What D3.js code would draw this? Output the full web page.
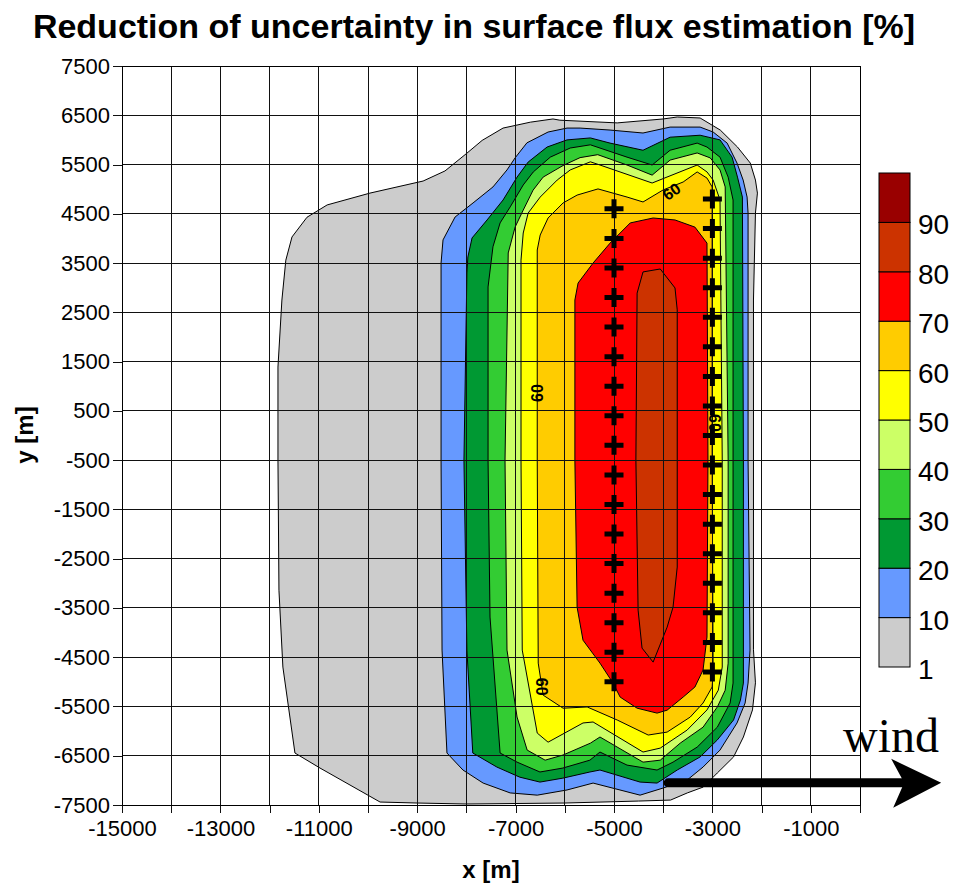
<!DOCTYPE html>
<html>
<head>
<meta charset="utf-8">
<script src="https://cdn.jsdelivr.net/npm/d3@7"></script>
<style>
    body { margin: 0; background: #fff; }
    svg text { font-family: Arial, "Liberation Sans", sans-serif; fill: #000; }
</style>
</head>
<body>
<div id="chart"></div>
<script>
// contour levels [%] and their colours
var levels = [1, 10, 20, 30, 40, 50, 60, 70, 80, 90];
var levelColors = ["#cccccc", "#6699ff", "#009933", "#33cc33", "#ccff66",
                   "#ffff00", "#ffcc00", "#ff0000", "#cc3300", "#990000"];

// filled contour outlines, [x, y] in metres
var contour1 = [[-6240,6425],[-6700,6360],[-7255,6240],[-7680,5990],[-7990,5730],[-8435,5370],
    [-8880,5165],[-9960,4920],[-10830,4680],[-11240,4430],[-11545,4030],[-11670,3560],[-11750,2750],
    [-11830,1390],[-11830,-500],[-11810,-3140],[-11730,-4700],[-11485,-6445],[-10975,-6750],
    [-9755,-7440],[-9000,-7460],[-8000,-7480],[-6000,-7460],[-4500,-7420],[-3850,-7400],[-3510,-7255],
    [-3185,-7135],[-2900,-6850],[-2570,-6525],[-2370,-6120],[-2185,-5570],[-2125,-5020],[-2165,-4350],
    [-2165,2750],[-2125,4515],[-2085,4920],[-2125,5185],[-2230,5530],[-2490,5855],[-2840,6200],
    [-3250,6445],[-3715,6465],[-4000,6425],[-4935,6345],[-6100,6400]];
var contour10 = [[-5955,6240],[-6340,6160],[-6770,5940],[-7010,5635],[-7175,5390],[-7460,5045],
    [-7865,4720],[-8230,4435],[-8475,3970],[-8515,3500],[-8515,-500],[-8495,-4355],[-8395,-6445],
    [-8070,-6790],[-7660,-7055],[-7110,-7255],[-6560,-7300],[-5955,-7195],[-5425,-7055],[-4470,-7300],
    [-4000,-7155],[-3515,-6995],[-3190,-6730],[-2845,-6385],[-2500,-5835],[-2335,-5430],[-2275,-5025],
    [-2235,-4355],[-2275,-500],[-2275,4515],[-2295,4840],[-2375,5185],[-2500,5530],[-2700,5935],
    [-2985,6160],[-3250,6260],[-3860,6260],[-4410,6140],[-5080,6200],[-5690,6240]];
var contour20 = [[-5480,6040],[-5955,6000],[-6360,5855],[-6745,5550],[-6970,5245],[-7255,4780],
    [-7580,4375],[-7885,4010],[-7970,3625],[-7990,3300],[-8050,-500],[-7990,-4355],[-7870,-6445],
    [-7380,-6730],[-6915,-6935],[-6505,-7035],[-6040,-6955],[-5490,-6830],[-5285,-6790],[-4470,-7035],
    [-4125,-7055],[-3715,-6790],[-3250,-6525],[-2900,-6180],[-2570,-5775],[-2430,-5370],[-2370,-5025],
    [-2370,-500],[-2390,4840],[-2490,5245],[-2600,5650],[-2845,6000],[-3250,6095],[-3860,6055],
    [-4410,5790],[-5080,5935]];
var contour30 = [[-5480,5900],[-5890,5835],[-6295,5650],[-6640,5350],[-6845,5085],[-7110,4640],
    [-7315,4315],[-7460,3830],[-7560,3015],[-7560,-500],[-7520,-3685],[-7315,-6445],[-6970,-6630],
    [-6505,-6830],[-6040,-6750],[-5490,-6590],[-5285,-6425],[-4735,-6690],[-4125,-6790],[-3800,-6630],
    [-3310,-6325],[-2900,-5920],[-2640,-5430],[-2580,-5025],[-2580,-500],[-2580,4780],[-2680,5245],
    [-2845,5650],[-3110,5855],[-3310,5935],[-3860,5790],[-4225,5490],[-4735,5650]];
var contour40 = [[-5330,5700],[-5690,5640],[-6035,5480],[-6440,5245],[-6645,4980],[-6845,4575],
    [-7010,4230],[-7150,3705],[-7215,-500],[-7175,-4355],[-6970,-5715],[-6765,-6385],[-6400,-6590],
    [-6035,-6485],[-5480,-6245],[-5285,-6120],[-4410,-6630],[-4060,-6590],[-3655,-6245],[-3190,-5920],
    [-2900,-5510],[-2740,-5170],[-2680,-4620],[-2680,-500],[-2740,5045],[-2845,5390],[-3045,5635],
    [-3310,5735],[-3860,5590],[-4225,5285],[-4735,5490]];
var contour50 = [[-5480,5555],[-5890,5390],[-6155,5185],[-6500,4840],[-6745,4515],[-6845,4110],
    [-6890,3560],[-6890,-500],[-6865,-4355],[-6560,-6040],[-6340,-6225],[-5630,-5835],[-5425,-5815],
    [-4410,-6425],[-4060,-6345],[-3515,-5980],[-3110,-5570],[-2880,-5170],[-2800,-4700],[-2800,-500],
    [-2845,4780],[-2985,5185],[-3110,5350],[-3310,5490],[-4225,5125],[-5285,5490]];
var contour60 = [[-6560,3765],[-6500,4070],[-6340,4415],[-6035,4720],[-5750,4880],[-5325,5005],
    [-4735,4840],[-4410,4740],[-4000,4985],[-3595,5145],[-3310,5350],[-3110,5225],[-3005,5045],
    [-3005,-500],[-2985,-4820],[-3005,-5105],[-3190,-5430],[-3450,-5715],[-3920,-6020],[-4305,-6080],
    [-4935,-5775],[-5545,-5510],[-6035,-5535],[-6440,-5270],[-6540,-4620],[-6560,-500]];
var contour70 = [[-5795,2750],[-5730,3095],[-5425,3500],[-5080,3905],[-4670,4315],[-4205,4415],
    [-3760,4375],[-3355,4230],[-3110,3905],[-3090,-500],[-3110,-4090],[-3190,-4760],[-3355,-5105],
    [-3595,-5310],[-3920,-5575],[-4125,-5635],[-4530,-5535],[-4875,-5310],[-5020,-5025],[-5285,-4620],
    [-5630,-4155],[-5750,-3485],[-5795,-500]];
var contour80 = [[-4530,2890],[-4410,3320],[-4060,3380],[-3760,2995],[-3715,2550],[-3715,-500],
    [-3715,-2670],[-3800,-3485],[-3920,-3890],[-4205,-4600],[-4430,-4315],[-4510,-3545],[-4555,-500]];

// "60" contour labels: x, y, angle
var contourLabels = [
    { text: "60", x: -6560, y: 860, angle: -90 },
    { text: "60", x: -6475, y: -5100, angle: 90 },
    { text: "60", x: -3830, y: 4950, angle: -35 },
    { text: "60", x: -2950, y: 255, angle: 90 }
];

// receiver lines
var receiverWestX = -5000;
var receiverWestY = [4600, 4000, 3400, 2800, 2200, 1600, 1000, 400, -200, -800, -1400, -2000,
    -2600, -3200, -3800, -4400, -5000];
var receiverEastX = -3000;
var receiverEastY = [4800, 4200, 3600, 3000, 2400, 1800, 1200, 600, 0, -600, -1200, -1800,
    -2400, -3000, -3600, -4200, -4800];

// wind arrow (metres)
var windArrow = { x0: -3900, x1: 1650, y: -7050 };

// axes
var xTicks = [-15000, -14000, -13000, -12000, -11000, -10000, -9000, -8000, -7000, -6000,
    -5000, -4000, -3000, -2000, -1000, 0];
var xTickLabels = [-15000, -13000, -11000, -9000, -7000, -5000, -3000, -1000];
var yTicks = [7500, 6500, 5500, 4500, 3500, 2500, 1500, 500, -500, -1500, -2500, -3500,
    -4500, -5500, -6500, -7500];


ContourChart = function(_parentElement) {
    this.parentElement = _parentElement;
    this.initVis();
}

ContourChart.prototype.initVis = function() {
    var vis = this;

    vis.width = 958;
    vis.height = 888;
    vis.plot = { left: 122, top: 66, right: 860, bottom: 805 };

    vis.svg = d3.select("#" + vis.parentElement).append("svg")
        .attr("width", vis.width)
        .attr("height", vis.height);

    vis.x = d3.scaleLinear().domain([-15000, 0]).range([vis.plot.left, vis.plot.right]);
    vis.y = d3.scaleLinear().domain([-7500, 7500]).range([vis.plot.bottom, vis.plot.top]);

    vis.line = d3.line()
        .x(function(d) { return vis.x(d[0]); })
        .y(function(d) { return vis.y(d[1]); })
        .curve(d3.curveLinearClosed);

    vis.svg.append("text")
        .attr("x", 474)
        .attr("y", 38)
        .attr("text-anchor", "middle")
        .style("font-size", "34px")
        .style("font-weight", "bold")
        .text("Reduction of uncertainty in surface flux estimation [%]");

    vis.svg.append("text")
        .attr("x", 491)
        .attr("y", 878)
        .attr("text-anchor", "middle")
        .style("font-size", "24px")
        .style("font-weight", "bold")
        .text("x [m]");

    vis.svg.append("text")
        .attr("transform", "translate(33,435) rotate(-90)")
        .attr("text-anchor", "middle")
        .style("font-size", "24px")
        .style("font-weight", "bold")
        .text("y [m]");

    vis.wrangleData();
}

ContourChart.prototype.wrangleData = function() {
    var vis = this;

    var polys = [contour1, contour10, contour20, contour30, contour40,
                 contour50, contour60, contour70, contour80];
    vis.displayData = polys.map(function(p, i) {
        return { level: levels[i], color: levelColors[i], points: p };
    });

    vis.updateVis();
}

ContourChart.prototype.updateVis = function() {
    var vis = this;

    // filled contours
    vis.svg.append("g").attr("class", "contours")
        .selectAll("path")
        .data(vis.displayData)
        .enter().append("path")
        .attr("d", function(d) { return vis.line(d.points); })
        .attr("fill", function(d) { return d.color; })
        .attr("stroke", "#000")
        .attr("stroke-width", 1)
        .attr("stroke-linejoin", "round");

    // grid over the fills
    var grid = vis.svg.append("g").attr("class", "grid")
        .attr("stroke", "#111")
        .attr("stroke-width", 1)
        .attr("shape-rendering", "crispEdges");
    grid.selectAll(".vx").data(xTicks).enter().append("line")
        .attr("x1", function(d) { return vis.x(d); })
        .attr("x2", function(d) { return vis.x(d); })
        .attr("y1", vis.plot.top)
        .attr("y2", vis.plot.bottom);
    grid.selectAll(".hy").data(yTicks).enter().append("line")
        .attr("y1", function(d) { return vis.y(d); })
        .attr("y2", function(d) { return vis.y(d); })
        .attr("x1", vis.plot.left)
        .attr("x2", vis.plot.right);

    // axes
    var xAxis = d3.axisBottom(vis.x)
        .tickValues(xTicks)
        .tickSize(8)
        .tickPadding(7)
        .tickFormat(function(d) { return xTickLabels.indexOf(d) >= 0 ? String(d) : ""; });
    var yAxis = d3.axisLeft(vis.y)
        .tickValues(yTicks)
        .tickSize(9)
        .tickPadding(3)
        .tickFormat(function(d) { return String(d); });

    var gx = vis.svg.append("g")
        .attr("transform", "translate(0," + vis.plot.bottom + ")")
        .call(xAxis);
    var gy = vis.svg.append("g")
        .attr("transform", "translate(" + vis.plot.left + ",0)")
        .call(yAxis);
    [gx, gy].forEach(function(g) {
        g.select(".domain").remove();
        g.selectAll("line").attr("stroke", "#111").attr("shape-rendering", "crispEdges");
        g.selectAll("text")
            .style("font-size", "22px")
            .style("font-family", "Arial, 'Liberation Sans', sans-serif");
    });

    vis.svg.append("rect")
        .attr("x", vis.plot.left)
        .attr("y", vis.plot.top)
        .attr("width", vis.plot.right - vis.plot.left)
        .attr("height", vis.plot.bottom - vis.plot.top)
        .attr("fill", "none")
        .attr("stroke", "#000")
        .attr("shape-rendering", "crispEdges");

    // contour labels
    vis.svg.append("g").selectAll("text")
        .data(contourLabels)
        .enter().append("text")
        .attr("transform", function(d) {
            return "translate(" + vis.x(d.x) + "," + vis.y(d.y) + ") rotate(" + d.angle + ")";
        })
        .attr("text-anchor", "middle")
        .attr("dy", "0.35em")
        .style("font-size", "16px")
        .style("font-weight", "bold")
        .text(function(d) { return d.text; });

    // receivers
    var receivers = receiverWestY.map(function(v) { return [receiverWestX, v]; })
        .concat(receiverEastY.map(function(v) { return [receiverEastX, v]; }));
    vis.svg.append("g").selectAll("path")
        .data(receivers)
        .enter().append("path")
        .attr("transform", function(d) {
            return "translate(" + vis.x(d[0]) + "," + vis.y(d[1]) + ")";
        })
        .attr("d", "M-9.5,0H9.5M0,-9.5V9.5")
        .attr("stroke", "#000")
        .attr("stroke-width", 5);

    // wind arrow
    var ax0 = vis.x(windArrow.x0), ax1 = vis.x(windArrow.x1), ay = vis.y(windArrow.y);
    vis.svg.append("line")
        .attr("x1", ax0)
        .attr("x2", ax1 - 35)
        .attr("y1", ay)
        .attr("y2", ay)
        .attr("stroke", "#000")
        .attr("stroke-width", 9)
        .attr("stroke-linecap", "round");
    vis.svg.append("path")
        .attr("d", "M" + ax1 + "," + ay + "L" + (ax1 - 50) + "," + (ay - 24) +
            "L" + (ax1 - 37) + "," + ay + "L" + (ax1 - 48) + "," + (ay + 25) + "Z")
        .attr("fill", "#000");
    vis.svg.append("text")
        .attr("x", 843)
        .attr("y", 752)
        .style("font-family", "'Liberation Serif', 'Times New Roman', serif")
        .style("font-size", "48px")
        .text("wind");

    // colour bar
    var cb = d3.scaleLinear().domain([0, 10]).range([667, 173]);
    var bar = vis.svg.append("g");
    bar.selectAll("rect")
        .data(levels)
        .enter().append("rect")
        .attr("x", 879)
        .attr("width", 31)
        .attr("y", function(d, i) { return cb(i + 1); })
        .attr("height", function(d, i) { return cb(i) - cb(i + 1); })
        .attr("fill", function(d, i) { return levelColors[i]; })
        .attr("stroke", "#000")
        .attr("stroke-width", 1);
    bar.selectAll("text")
        .data(levels)
        .enter().append("text")
        .attr("x", 918)
        .attr("y", function(d, i) { return cb(i) + 2; })
        .attr("dy", "0.36em")
        .style("font-size", "28px")
        .text(function(d) { return d; });
}

var chart = new ContourChart("chart");
</script>
</body>
</html>
